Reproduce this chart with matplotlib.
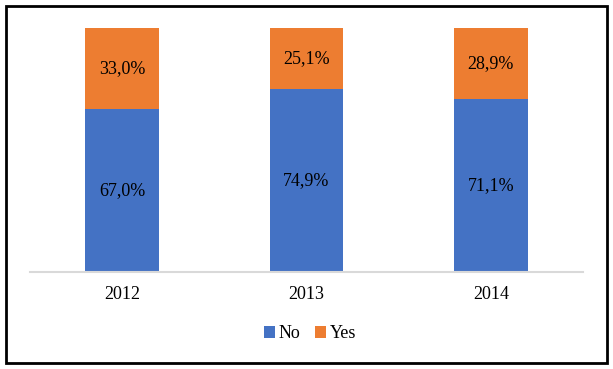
import matplotlib.pyplot as plt
import matplotlib.patches as mpatches

years = ["2012", "2013", "2014"]
no_vals = [67.0, 74.9, 71.1]
yes_vals = [33.0, 25.1, 28.9]

plt.rcParams['font.family'] = ['Liberation Serif', 'DejaVu Serif']

fig = plt.figure(figsize=(6.13, 3.69), dpi=100)
ax = fig.add_axes([30/613, 97/369, 553/613, (272-28)/369])

x = range(len(years))
b1 = ax.bar(x, no_vals, width=0.4, color="#4472C4", label="No")
b2 = ax.bar(x, yes_vals, width=0.4, bottom=no_vals, color="#ED7D31", label="Yes")

for i in x:
    ax.text(i, no_vals[i] / 2, ("%.1f%%" % no_vals[i]).replace(".", ","),
            ha="center", va="center", fontsize=13)
    ax.text(i, no_vals[i] + yes_vals[i] / 2, ("%.1f%%" % yes_vals[i]).replace(".", ","),
            ha="center", va="center", fontsize=13)

ax.set_xlim(-0.5, 2.5)
ax.set_ylim(0, 100)
ax.set_xticks(list(x))
ax.set_xticklabels(years, fontsize=13)
ax.tick_params(axis="x", length=0, pad=10)
ax.set_yticks([])
for s in ["top", "right", "left"]:
    ax.spines[s].set_visible(False)
ax.spines["bottom"].set_color("#D9D9D9")
ax.spines["bottom"].set_linewidth(1.5)

fig.legend(handles=[b1, b2], labels=["No", "Yes"], loc="center",
           bbox_to_anchor=(310/613, 1 - 334/369), ncol=2, frameon=False,
           fontsize=13, handlelength=0.6, handleheight=0.6,
           handletextpad=0.2, columnspacing=0.8)

border = mpatches.Rectangle((6/613, 6/369), 601/613, 357/369, transform=fig.transFigure,
                            fill=False, edgecolor="black", linewidth=2)
fig.patches.append(border)

fig.savefig("out.png", dpi=100)
